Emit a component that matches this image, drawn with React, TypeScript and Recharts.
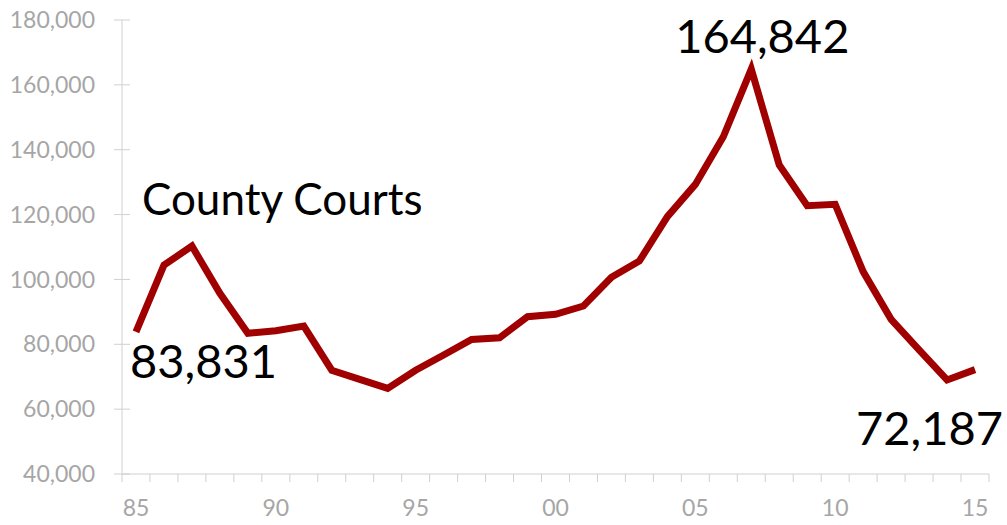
import React from 'react';
import { LineChart, Line, XAxis, YAxis, LabelList } from 'recharts';

// fiscal years, two-digit labels as on the axis
const years = [
  '85', '86', '87', '88', '89', '90', '91', '92', '93', '94', '95', '96', '97', '98', '99',
  '00', '01', '02', '03', '04', '05', '06', '07', '08', '09', '10', '11', '12', '13', '14', '15',
];

// county court filings
const filings = [
  83831, 104400, 110300, 95700, 83400, 84200, 85600, 72000, 69200, 66400, 72000, 76700, 81500, 82000, 88500,
  89250, 91800, 100650, 105700, 119350, 129300, 144000, 164842, 135300, 122750, 123150, 102400, 87700, 78250, 69000, 72187,
];

const yTicks = [40000, 60000, 80000, 100000, 120000, 140000, 160000, 180000];
const labeledYears = ['85', '90', '95', '00', '05', '10', '15'];
const seriesName = 'County Courts';

const FONT = 'Lato, "Open Sans", sans-serif';
const AXIS_GRAY = '#d0d0d0';
const TICK_GRAY = '#a6a6a6';
const LINE_RED = '#a00000';

const chartData = years.map((year, i) => ({ year, value: filings[i] }));

const fmt = (v: number) => v.toLocaleString('en-US');

const XTick = (props: any) => {
  const { x, y, payload, index, width } = props;
  const half = width ? width / years.length / 2 : 14;
  const axisY = y - 10;
  return (
    <g>
      <line x1={x - half} x2={x - half} y1={axisY} y2={axisY + 8} stroke={AXIS_GRAY} />
      {index === years.length - 1 && (
        <line x1={x + half} x2={x + half} y1={axisY} y2={axisY + 8} stroke={AXIS_GRAY} />
      )}
      {labeledYears.includes(payload.value) && (
        <text x={x} y={y + 16} dy="0.71em" textAnchor="middle" fill={TICK_GRAY} fontSize={23} fontFamily={FONT}>
          {payload.value}
        </text>
      )}
    </g>
  );
};

const YTick = (props: any) => {
  const { x, y, payload } = props;
  return (
    <g>
      <line x1={x + 19} x2={x + 35} y1={y} y2={y} stroke={AXIS_GRAY} />
      <text x={x} y={y} dy="0.355em" textAnchor="end" fill={TICK_GRAY} fontSize={23} fontFamily={FONT}>
        {fmt(payload.value)}
      </text>
    </g>
  );
};

const Callout = (props: any) => {
  const vb = props.viewBox || {};
  const x = props.x ?? vb.x;
  const y = props.y ?? vb.y;
  const { index, value } = props;
  const txt = { fill: '#000', fontFamily: FONT, fontSize: 47 };
  if (index === 0) {
    return (
      <g>
        <text x={x + 6} y={y - 117} {...txt} fontSize={44}>{seriesName}</text>
        <text x={x - 6} y={y + 46} {...txt}>{fmt(value)}</text>
      </g>
    );
  }
  if (index === 22) {
    return <text x={x + 11} y={y - 16} textAnchor="middle" {...txt}>{fmt(value)}</text>;
  }
  if (index === years.length - 1) {
    return <text x={x + 28} y={y + 75} textAnchor="end" {...txt}>{fmt(value)}</text>;
  }
  return null;
};

export default function App() {
  return (
    <div style={{ position: 'absolute', left: 0, top: 0, background: '#fff' }}>
      <LineChart width={1007} height={525} data={chartData} margin={{ top: 20, right: 18, bottom: 0, left: 0 }}>
        <XAxis
          dataKey="year"
          scale="band"
          interval={0}
          height={51}
          tickSize={8}
          tickMargin={2}
          tickLine={false}
          axisLine={{ stroke: AXIS_GRAY }}
          tick={<XTick />}
        />
        <YAxis
          domain={[40000, 180000]}
          ticks={yTicks}
          width={122}
          tickSize={8}
          tickMargin={19}
          tickLine={false}
          axisLine={{ stroke: AXIS_GRAY }}
          tick={<YTick />}
        />
        <Line
          dataKey="value"
          stroke={LINE_RED}
          strokeWidth={7}
          dot={false}
          activeDot={false}
          isAnimationActive={false}
        >
          <LabelList dataKey="value" content={<Callout />} />
        </Line>
      </LineChart>
    </div>
  );
}
